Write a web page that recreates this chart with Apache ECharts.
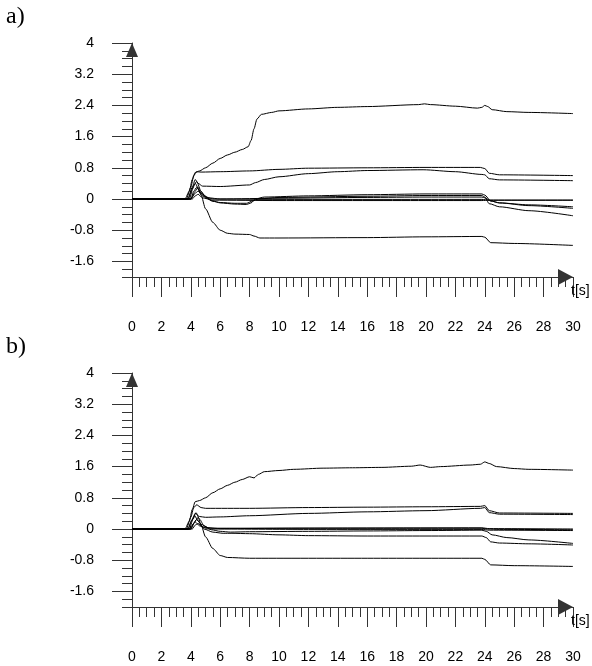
<!DOCTYPE html>
<html>
<head>
<meta charset="utf-8">
<script src="https://cdn.jsdelivr.net/npm/echarts@6/dist/echarts.min.js"></script>
<style>
html,body{margin:0;padding:0;background:#fff;}
#c{width:592px;height:666px;}
</style>
</head>
<body>
<div id="c"></div>
<script>
// ---- tick labels ----
const yMajorTicks = [-1.6, -0.8, 0, 0.8, 1.6, 2.4, 3.2, 4];
const xRange = [0, 30];
const yRange = [-2, 4];
const panelTitles = ['a)', 'b)'];
const axisName = 't[s]';

// ---- panel a) series: [t, value] ----
const a1 = [[0,0],[3.6,0],[3.9,0.2],[4.1,0.5],[4.3,0.68],[4.6,0.72],[5,0.8],[5.5,0.92],[6,1.04],[6.5,1.13],[7,1.2],[7.5,1.27],[7.9,1.34],[8.1,1.5],[8.3,1.8],[8.5,2.05],[8.8,2.17],[9.5,2.22],[10,2.26],[12,2.31],[14,2.35],[16,2.37],[19.5,2.42],[19.9,2.44],[20.3,2.42],[22,2.38],[23.5,2.33],[23.8,2.35],[24,2.4],[24.2,2.37],[24.5,2.29],[25.5,2.24],[27,2.22],[30,2.19]];
const a2 = [[0,0],[3.7,0],[4.0,0.3],[4.2,0.6],[4.4,0.7],[4.7,0.69],[6,0.7],[8,0.72],[10,0.76],[12,0.79],[16,0.8],[20,0.81],[23.7,0.81],[24,0.78],[24.3,0.66],[25,0.62],[30,0.6]];
const a3 = [[0,0],[3.8,0],[4.1,0.3],[4.3,0.5],[4.5,0.4],[4.8,0.33],[6,0.32],[8,0.36],[8.4,0.42],[9,0.5],[10,0.57],[12,0.65],[14,0.7],[16,0.73],[19.8,0.75],[22,0.7],[23.8,0.63],[24,0.62],[24.3,0.52],[25,0.49],[30,0.47]];
const a4 = [[0,0],[3.9,0],[4.2,0.35],[4.4,0.45],[4.7,0.2],[5,0.05],[5.5,-0.05],[6,-0.1],[7,-0.13],[7.8,-0.14],[8.1,-0.1],[8.4,0.0],[9,0.05],[12,0.08],[16,0.11],[20,0.13],[23.8,0.13],[24,0.1],[24.4,-0.05],[25,-0.1],[27,-0.15],[30,-0.2]];
const a5 = [[0,0],[3.8,0],[4.1,0.25],[4.3,0.4],[4.6,0.2],[5,0.03],[5.5,-0.06],[6,-0.09],[7,-0.11],[7.8,-0.11],[8.2,-0.05],[8.6,0.0],[10,0.04],[16,0.07],[20,0.09],[23.8,0.09],[24,0.05],[24.3,-0.12],[25,-0.2],[27,-0.3],[30,-0.43]];
const a6 = [[0,0],[4.0,0],[4.2,0.2],[4.4,0.3],[4.7,0.15],[5.2,0.03],[6,0.0],[10,0.02],[16,0.04],[20,0.05],[23.8,0.05],[24,0.03],[24.4,-0.05],[25,-0.1],[27,-0.17],[30,-0.24]];
const a7 = [[0,0],[4.0,0],[4.3,0.15],[4.5,0.2],[4.8,0.08],[5.5,0.0],[10,-0.01],[20,-0.01],[23.8,-0.01],[24.3,-0.03],[30,-0.03]];
const a8 = [[0,0],[4.1,0],[4.3,0.08],[4.5,0.12],[4.8,0.03],[5.5,-0.03],[10,-0.04],[20,-0.04],[23.8,-0.04],[24.3,-0.03],[30,-0.03]];
const a9 = [[0,0],[4.0,0],[4.3,0.2],[4.5,0.3],[4.7,0.1],[5,-0.25],[5.5,-0.6],[6,-0.8],[6.5,-0.88],[7,-0.9],[8,-0.91],[8.3,-0.95],[8.7,-1.0],[10,-1.0],[16,-0.99],[20,-0.97],[23.8,-0.96],[24,-0.98],[24.4,-1.12],[26,-1.14],[30,-1.19]];

// ---- panel b) series: [t, value] ----
const b1 = [[0,0],[3.6,0],[3.9,0.2],[4.1,0.5],[4.3,0.7],[4.6,0.73],[5,0.8],[5.5,0.93],[6,1.03],[6.5,1.12],[7,1.2],[7.5,1.27],[8,1.34],[8.3,1.31],[8.6,1.4],[9,1.47],[10,1.5],[11,1.53],[13,1.56],[15,1.57],[17,1.58],[19,1.61],[19.6,1.64],[20.3,1.58],[21,1.6],[23,1.64],[23.7,1.66],[24,1.72],[24.3,1.68],[24.8,1.6],[26,1.55],[27,1.53],[30,1.51]];
const b2 = [[0,0],[3.7,0],[4.0,0.3],[4.2,0.55],[4.4,0.62],[4.7,0.55],[5,0.53],[8,0.53],[12,0.55],[16,0.56],[20,0.57],[23.7,0.58],[24,0.6],[24.3,0.47],[25,0.41],[30,0.4]];
const b3 = [[0,0],[3.8,0],[4.1,0.25],[4.3,0.4],[4.6,0.32],[5,0.3],[6,0.31],[8,0.34],[12,0.4],[16,0.44],[20,0.47],[23.7,0.53],[24,0.55],[24.3,0.42],[25,0.38],[30,0.37]];
const b4 = [[0,0],[3.9,0],[4.15,0.25],[4.35,0.42],[4.6,0.25],[4.9,0.08],[5.4,-0.02],[6,-0.06],[6.7,-0.08],[8,-0.07],[12,-0.06],[16,-0.05],[20,-0.04],[23.8,-0.03],[24.1,-0.06],[24.5,-0.15],[25.5,-0.22],[27,-0.28],[30,-0.37]];
const b5 = [[0,0],[3.8,0],[4.05,0.2],[4.25,0.35],[4.5,0.2],[4.9,0.0],[5.5,-0.08],[6.2,-0.11],[6.8,-0.11],[8,-0.12],[10,-0.15],[12,-0.17],[16,-0.18],[20,-0.18],[23.8,-0.18],[24.1,-0.22],[24.4,-0.33],[25,-0.36],[27,-0.38],[30,-0.41]];
const b6 = [[0,0],[4.0,0],[4.2,0.15],[4.4,0.25],[4.7,0.12],[5.2,0.03],[6,0.01],[12,0.02],[20,0.02],[23.8,0.02],[24.2,0.0],[25,-0.01],[30,-0.02]];
const b7 = [[0,0],[3.9,0],[4.1,0.1],[4.3,0.18],[4.6,0.08],[5.2,0.0],[12,-0.01],[23.8,-0.01],[24.3,-0.03],[30,-0.04]];
const b8 = [[0,0],[4.1,0],[4.3,0.1],[4.5,0.14],[4.8,0.05],[5.5,0.02],[23.8,0.03],[24.3,0.01],[30,0.0]];
const b9 = [[0,0],[4.0,0],[4.3,0.2],[4.5,0.3],[4.7,0.1],[5,-0.2],[5.5,-0.5],[6,-0.68],[6.5,-0.73],[8,-0.75],[16,-0.75],[20,-0.75],[23.8,-0.75],[24,-0.78],[24.4,-0.92],[26,-0.94],[30,-0.96]];

const panelA = [a1,a2,a3,a4,a5,a6,a7,a8,a9];
const panelB = [b1,b2,b3,b4,b5,b6,b7,b8,b9];

const AXC = '#333';
const labelFont = {color:'#000', fontSize:14, fontFamily:'Liberation Sans, Arial, sans-serif'};

function grid(top){ return {left:132, top:top, width:441, height:234, containLabel:false}; }

function xAx(gi){
  return {
    type:'value', gridIndex:gi, min:xRange[0], max:xRange[1], interval:2, position:'bottom',
    axisLine:{show:true, onZero:false, lineStyle:{color:AXC, width:1},
      symbol:['none','triangle'], symbolSize:[16,15], symbolOffset:[0,-7.5]},
    axisTick:{show:true, inside:false, length:20, lineStyle:{color:AXC}},
    minorTick:{show:true, splitNumber:4, length:10, lineStyle:{color:AXC}},
    axisLabel:{show:true, margin:43, ...labelFont},
    splitLine:{show:false}
  };
}
function yAxData(gi){
  return {
    type:'value', gridIndex:gi, min:yRange[0], max:yRange[1], interval:0.2, position:'left',
    axisLine:{show:true, onZero:false, lineStyle:{color:AXC, width:1},
      symbol:['none','triangle'], symbolSize:[12,14], symbolOffset:[0,-7]},
    axisTick:{show:true, inside:false, length:10, lineStyle:{color:AXC}},
    axisLabel:{show:false},
    splitLine:{show:false}
  };
}
function yAxMajor(gi){
  return {
    type:'value', gridIndex:gi, min:yRange[0], max:yRange[1], position:'left', offset:0,
    axisLine:{show:false},
    axisTick:{show:true, inside:false, length:20, customValues:yMajorTicks, lineStyle:{color:AXC}},
    axisLabel:{show:true, margin:38, customValues:yMajorTicks, ...labelFont,
      formatter:function(v){ return String(Math.round(v*10)/10); }},
    splitLine:{show:false}
  };
}

const series = [];
panelA.forEach(d => series.push({type:'line', xAxisIndex:0, yAxisIndex:0, data:d, showSymbol:false, smooth:0.25, smoothMonotone:'x', lineStyle:{color:'#000', width:1}, silent:true, animation:false}));
panelB.forEach(d => series.push({type:'line', xAxisIndex:1, yAxisIndex:2, data:d, showSymbol:false, smooth:0.25, smoothMonotone:'x', lineStyle:{color:'#000', width:1}, silent:true, animation:false}));

const titleStyle = {fontFamily:'Liberation Serif, Times New Roman, serif', fontSize:24, fontWeight:'normal', color:'#000'};
const nameStyle = {fontFamily:'Liberation Sans, Arial, sans-serif', fontSize:14, fontWeight:'normal', color:'#000'};

const chart = echarts.init(document.getElementById('c'), null, {renderer:'canvas'});
chart.setOption({
  animation:false,
  backgroundColor:'#fff',
  title:[
    {text:panelTitles[0], left:6, top:5, padding:0, textStyle:titleStyle},
    {text:panelTitles[1], left:6, top:335, padding:0, textStyle:titleStyle},
    {text:axisName, left:571, top:284, padding:0, textStyle:nameStyle},
    {text:axisName, left:571, top:614, padding:0, textStyle:nameStyle}
  ],
  grid:[grid(43), grid(373)],
  xAxis:[xAx(0), xAx(1)],
  yAxis:[yAxData(0), yAxMajor(0), yAxData(1), yAxMajor(1)],
  series:series
});
</script>
</body>
</html>
